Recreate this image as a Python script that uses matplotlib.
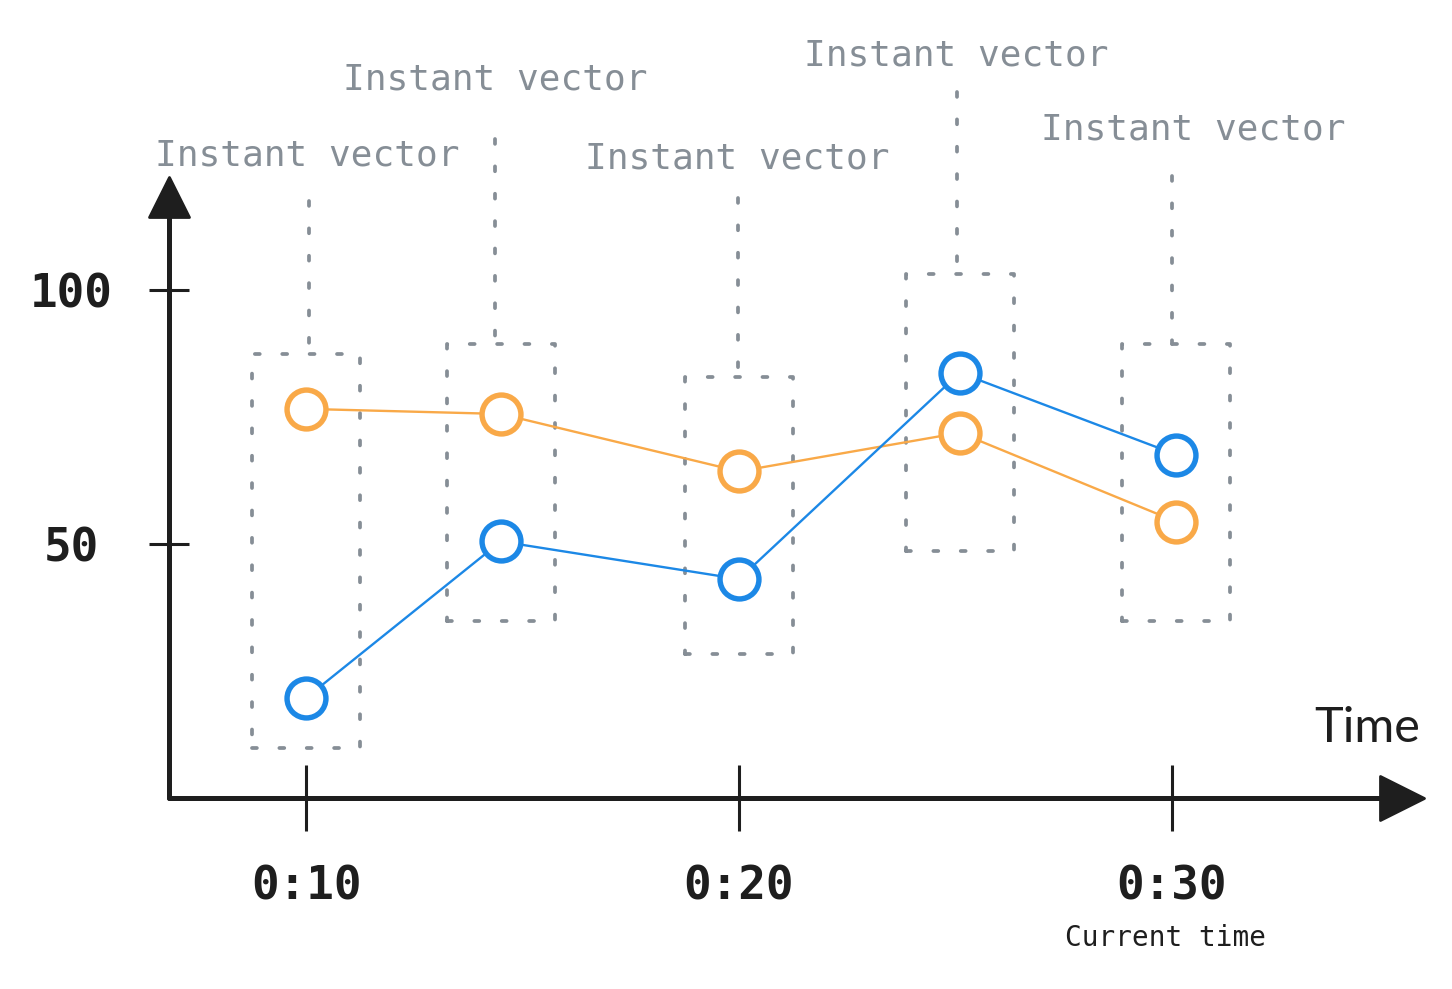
import matplotlib
matplotlib.use("Agg")
import matplotlib.pyplot as plt
from matplotlib.patches import Rectangle
from matplotlib.markers import MarkerStyle

# ---- data ----
times = [10.0, 14.5, 20.0, 25.1, 30.1]            # sample times (s)
blue_values = [19.6, 50.4, 43.0, 83.6, 67.5]
orange_values = [76.5, 75.5, 64.2, 71.8, 54.3]
window_low = [9.8, 34.8, 28.3, 48.6, 34.8]
window_high = [87.4, 89.2, 82.7, 103.1, 89.2]
window_width = 2.5
y_ticks = [50, 100]
y_tick_labels = ["50", "100"]
x_ticks = [10, 20, 30]
x_tick_labels = ["0:10", "0:20", "0:30"]
label_text = "Instant vector"
label_x = [10.03, 14.36, 19.97, 25.02, 30.5]
label_y = [124.4, 139.4, 123.8, 144.1, 129.5]
connector_x = [10.07, 14.36, 19.98, 25.04, 30.0]
connector_top = [117.5, 129.7, 118.1, 138.8, 122.4]

BLUE = "#1c88e6"
ORANGE = "#f9a948"
GRAY = "#868e96"
INK = "#1e1e1e"
MONO = "DejaVu Sans Mono"

fig = plt.figure(figsize=(14.52, 9.89), dpi=100)
W, H = 1452, 989
left_px, right_px, bottom_px, top_px = 169, 1402, 797.5, 197
ax = fig.add_axes([left_px / W, (H - bottom_px) / H,
                   (right_px - left_px) / W, (bottom_px - top_px) / H])
ax.set_xlim(6.836, 35.312)
ax.set_ylim(0, (bottom_px - top_px) / 5.08)
ax.patch.set_alpha(0)

for s in ["top", "right"]:
    ax.spines[s].set_visible(False)
for s in ["left", "bottom"]:
    ax.spines[s].set_linewidth(3.6)
    ax.spines[s].set_color(INK)
    ax.spines[s].set_capstyle("round")

ax.set_yticks(y_ticks)
ax.set_yticklabels(y_tick_labels)
ax.set_xticks(x_ticks)
ax.set_xticklabels(x_tick_labels)
ax.tick_params(axis="y", direction="inout", length=29.5, width=2.2, color=INK,
               pad=55.8, labelsize=33, labelcolor=INK)
ax.tick_params(axis="x", direction="inout", length=47.5, width=2.2, color=INK,
               pad=24.5, labelsize=33, labelcolor=INK)
for lbl in ax.get_yticklabels() + ax.get_xticklabels():
    lbl.set_fontfamily(MONO)
    lbl.set_fontweight("bold")
for lbl in ax.get_yticklabels():
    lbl.set_ha("center")

# arrow heads
ax.plot([1], [0], transform=ax.transAxes, marker=MarkerStyle(">", joinstyle="round"),
        markersize=31, color=INK, mew=2, clip_on=False, zorder=6)
ax.plot([0], [1], transform=ax.transAxes, marker=MarkerStyle("^", joinstyle="round"),
        markersize=29, color=INK, mew=2, clip_on=False, zorder=6)

# dotted windows and connectors
dot = (0, (1.3, 6))
LW_DOT = 2.7
for t, lo, hi, cx, ct, lx, ly in zip(times, window_low, window_high, connector_x,
                                     connector_top, label_x, label_y):
    r = Rectangle((t - window_width / 2, lo), window_width, hi - lo, fill=False,
                  edgecolor=GRAY, linewidth=LW_DOT, linestyle=dot, capstyle="round",
                  joinstyle="round", zorder=1)
    ax.add_patch(r)
    ax.plot([cx, cx], [ct, hi], color=GRAY, linewidth=LW_DOT, linestyle=dot,
            dash_capstyle="round", clip_on=False, zorder=1)
    ax.text(lx, ly, label_text, ha="center", va="baseline", fontsize=26,
            family=MONO, color=GRAY, clip_on=False)

# series
for vals, col in [(orange_values, ORANGE), (blue_values, BLUE)]:
    ax.plot(times, vals, color=col, linewidth=1.7, marker="o", markersize=28,
            markerfacecolor="white", markeredgecolor=col, markeredgewidth=3.9,
            zorder=4, clip_on=False)

ax.annotate("Current time", xy=(30, 0), xycoords=("data", "axes fraction"),
            xytext=(-5, -101), textcoords="offset points", ha="center", va="center",
            fontsize=20, family=MONO, color=INK)
ax.annotate("Time", xy=(1, 0), xycoords="axes fraction",
            xytext=(-25, 50), textcoords="offset points", ha="center", va="center",
            fontsize=35, family="Lato", color=INK)

fig.savefig("out.png", dpi=100)
